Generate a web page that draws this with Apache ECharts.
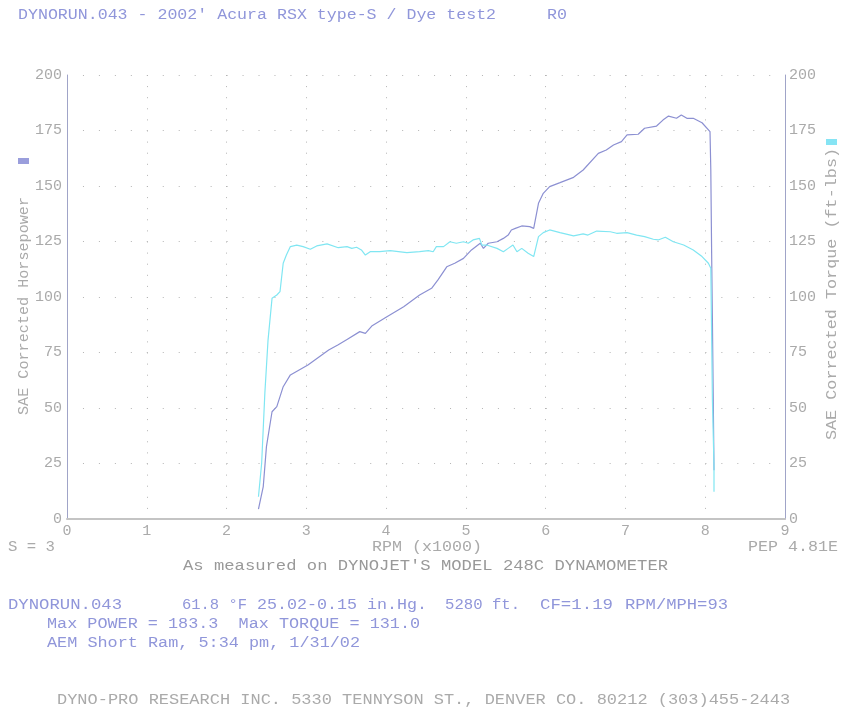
<!DOCTYPE html>
<html><head><meta charset="utf-8">
<script src="https://cdn.jsdelivr.net/npm/echarts@6/dist/echarts.min.js"></script>
<style>html,body{margin:0;padding:0;background:#fff}#c{width:850px;height:714px}</style>
</head><body><div id="c"></div>
<script>
// ---- data ----
const rpmTickLabels = ['0','1','2','3','4','5','6','7','8','9'];
const yTickLabels = ['0','25','50','75','100','125','150','175','200'];

const hpRpm = [2.40,2.46,2.50,2.57,2.63,2.71,2.80,3.02,3.28,3.40,3.51,3.67,3.74,3.82,4.01,4.22,4.42,4.57,4.65,4.76,4.86,4.97,5.07,5.18,5.22,5.28,5.39,5.47,5.53,5.57,5.62,5.70,5.80,5.85,5.91,5.97,6.05,6.18,6.35,6.47,6.66,6.76,6.85,6.95,7.02,7.16,7.24,7.39,7.47,7.54,7.64,7.70,7.77,7.85,7.96,8.06,8.07,8.08,8.09,8.10,8.11];
const hpValues = [4.5,14.6,32.6,48.3,50.6,59.6,64.9,69.4,76.1,78.5,80.9,84.4,83.6,86.9,91.1,95.6,100.9,103.9,107.7,113.6,115.2,117.4,121.2,124.2,121.9,124.2,124.9,126.4,127.9,130.2,130.9,132.0,131.7,130.9,142.2,146.7,149.7,151.5,153.9,157.2,164.7,166.2,168.5,170.0,173.0,173.3,176.0,177.0,179.7,181.5,180.5,182.0,180.5,180.5,178.5,174.5,157.2,121.0,89.6,56.6,22.0];

const tqRpm = [2.40,2.44,2.48,2.52,2.57,2.63,2.67,2.71,2.75,2.80,2.88,2.96,3.05,3.13,3.26,3.40,3.51,3.57,3.63,3.69,3.74,3.80,3.92,4.05,4.26,4.42,4.53,4.59,4.63,4.72,4.80,4.88,4.97,5.03,5.09,5.17,5.20,5.26,5.39,5.47,5.53,5.59,5.64,5.70,5.78,5.85,5.91,5.97,6.05,6.18,6.35,6.47,6.53,6.64,6.81,6.89,7.02,7.14,7.24,7.35,7.41,7.50,7.60,7.73,7.85,7.96,8.04,8.07,8.08,8.09,8.11,8.11];
const tqValues = [10.0,25.1,56.6,80.6,99.4,100.9,102.4,115.2,118.9,122.7,123.4,122.7,121.5,123.0,123.9,122.2,122.7,121.9,122.4,121.2,118.9,120.4,120.4,120.9,120.0,120.4,120.9,120.4,122.7,122.7,124.9,124.2,124.9,124.2,125.7,126.4,123.4,123.4,121.9,120.4,121.9,123.4,120.4,121.9,119.7,118.2,127.2,129.0,130.2,129.0,127.5,128.4,127.9,129.7,129.4,128.7,129.0,127.9,127.2,126.0,125.7,126.9,124.9,123.4,121.2,118.2,115.2,112.9,83.6,53.6,23.6,12.3];

// ---- styling ----
const FONT = '"Liberation Mono", "DejaVu Sans Mono", monospace';
const BLUE = '#9096da';
const GRAY = '#aaaaaa';
const HP_COLOR = '#8c90d2';
const TQ_COLOR = '#80e6f2';

function txt(str, x, y, w, color, align, rot) {
  const fs = 14;
  const nat = str.length * 0.6 * fs;
  return {
    type: 'text', x: x, y: y, rotation: rot || 0,
    scaleX: w / nat, scaleY: 1, silent: true,
    style: { text: str, fill: color, font: fs + 'px ' + FONT,
             textAlign: align || 'left', verticalAlign: 'middle' }
  };
}

const chart = echarts.init(document.getElementById('c'), null, {renderer: 'canvas'});

const axisLabelStyle = { color: GRAY, fontFamily: FONT, fontSize: 15 };

chart.setOption({
  animation: false,
  backgroundColor: '#fff',
  grid: { left: 67, right: 65, top: 75, bottom: 195, containLabel: false },
  xAxis: {
    type: 'value', min: 0, max: 9, interval: 1,
    axisLine: { show: true, lineStyle: { color: '#c4c4c4', width: 2 } },
    axisTick: { show: false },
    axisLabel: Object.assign({ margin: 5, formatter: v => rpmTickLabels[Math.round(v)] }, axisLabelStyle),
    splitLine: { show: true, lineStyle: { color: '#b4b4b4', width: 1, type: [1, 10.1] } }
  },
  yAxis: [
    {
      type: 'value', min: 0, max: 200, interval: 25, position: 'left',
      axisLine: { show: true, lineStyle: { color: '#a0a4c8', width: 1 } },
      axisTick: { show: false },
      axisLabel: Object.assign({ margin: 5, formatter: v => yTickLabels[Math.round(v / 25)] }, axisLabelStyle),
      splitLine: { show: true, lineStyle: { color: '#b4b4b4', width: 1, type: [1, 14.96] } }
    },
    {
      type: 'value', min: 0, max: 200, interval: 25, position: 'right',
      axisLine: { show: true, lineStyle: { color: '#a0a4c8', width: 1 } },
      axisTick: { show: false },
      axisLabel: Object.assign({ margin: 4, formatter: v => yTickLabels[Math.round(v / 25)] }, axisLabelStyle),
      splitLine: { show: false }
    }
  ],
  series: [
    {
      name: 'SAE Corrected Horsepower', type: 'line', yAxisIndex: 0,
      data: hpRpm.map((r, i) => [r, hpValues[i]]),
      showSymbol: false, smooth: false,
      lineStyle: { color: HP_COLOR, width: 1.2 }
    },
    {
      name: 'SAE Corrected Torque (ft-lbs)', type: 'line', yAxisIndex: 1,
      data: tqRpm.map((r, i) => [r, tqValues[i]]),
      showSymbol: false, smooth: false,
      lineStyle: { color: TQ_COLOR, width: 1.2 }
    }
  ],
  graphic: [
    txt("DYNORUN.043 - 2002' Acura RSX type-S / Dye test2", 18, 15, 478, BLUE),
    txt('R0', 547, 15, 20, BLUE),
    txt('SAE Corrected Horsepower', 24, 306, 218, GRAY, 'center', Math.PI / 2),
    txt('SAE Corrected Torque (ft-lbs)', 832, 294, 292, GRAY, 'center', Math.PI / 2),
    { type: 'rect', shape: { x: 18, y: 158, width: 11, height: 6 }, style: { fill: '#9a9edc' }, silent: true },
    { type: 'rect', shape: { x: 826, y: 139, width: 11, height: 6 }, style: { fill: '#86e4f4' }, silent: true },
    txt('S = 3', 8, 547, 47, GRAY),
    txt('RPM (x1000)', 427, 547, 110, GRAY, 'center'),
    txt('PEP 4.81E', 838, 547, 90, GRAY, 'right'),
    txt("As measured on DYNOJET'S MODEL 248C DYNAMOMETER", 425.5, 566, 485, '#999999', 'center'),
    txt('DYNORUN.043', 8, 605, 114, BLUE),
    txt('61.8 °F', 182, 605, 65, BLUE),
    txt('25.02-0.15 in.Hg.', 257, 605, 170, BLUE),
    txt('5280 ft.', 445, 605, 75, BLUE),
    txt('CF=1.19', 540, 605, 73, BLUE),
    txt('RPM/MPH=93', 625, 605, 103, BLUE),
    txt('Max POWER = 183.3  Max TORQUE = 131.0', 47, 624, 373, BLUE),
    txt('AEM Short Ram, 5:34 pm, 1/31/02', 47, 643, 313, BLUE),
    txt('DYNO-PRO RESEARCH INC. 5330 TENNYSON ST., DENVER CO. 80212 (303)455-2443', 57, 700, 733, GRAY)
  ]
});
</script>
</body></html>
